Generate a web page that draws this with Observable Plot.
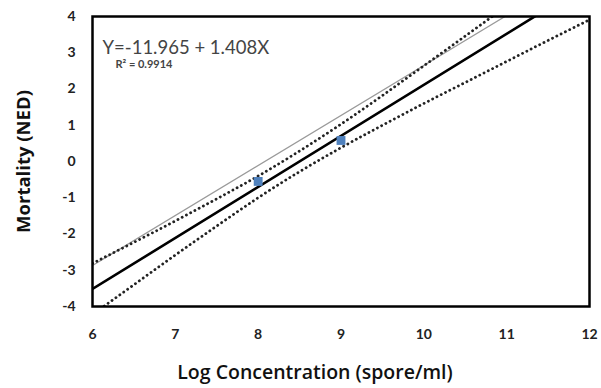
<!DOCTYPE html>
<html>
<head>
<meta charset="utf-8">
<script src="https://cdn.jsdelivr.net/npm/d3@7"></script>
<script src="https://cdn.jsdelivr.net/npm/@observablehq/plot@0.6"></script>
<style>
  html, body { margin: 0; padding: 0; background: #fff; }
  #chart { width: 601px; height: 388px; }
</style>
</head>
<body>
<div id="chart"></div>
<script>
// ---- data ----
const xTicks = [6, 7, 8, 9, 10, 11, 12];
const yTicks = [-4, -3, -2, -1, 0, 1, 2, 3, 4];
const obsX = [8, 9];
const obsY = [-0.55, 0.58];
const intercept = -11.965;
const slope = 1.408;
const fitX = [6, 12];
const grayX = [6, 10.98];
const grayY = [-2.87, 4.0];
const bandX  = [6, 6.5, 7, 7.5, 8, 8.5, 9, 9.5, 10, 10.5, 11, 11.5, 12];
const upperY = [-2.81, -2.23, -1.64, -1.03, -0.40, 0.29, 1.03, 1.82, 2.64, 3.46, 4.29, 5.12, 5.95];
const lowerY = [-4.22, -3.40, -2.58, -1.78, -1.00, -0.28, 0.38, 1.00, 1.60, 2.18, 2.76, 3.34, 3.91];
const eqText = "Y=-11.965 + 1.408X";
const r2Text = "R² = 0.9914";
const xLabel = "Log Concentration (spore/ml)";
const yLabel = "Mortality (NED)";

const obs = obsX.map((x, i) => ({x, y: obsY[i]}));
const fit = fitX.map(x => ({x, y: intercept + slope * x}));
const gray = grayX.map((x, i) => ({x, y: grayY[i]}));
const upper = bandX.map((x, i) => ({x, y: upperY[i]}));
const lower = bandX.map((x, i) => ({x, y: lowerY[i]}));

const font = "Lato, 'Open Sans', sans-serif";
const labelFont = "'Open Sans', Lato, sans-serif";
const fmt = d => String(d);

const chart = Plot.plot({
  width: 601,
  height: 388,
  marginLeft: 92,
  marginRight: 12,
  marginTop: 16,
  marginBottom: 82,
  style: {fontFamily: font, background: "#fff", color: "#222"},
  x: {domain: [6, 12], label: null},
  y: {domain: [-4, 4], label: null},
  marks: [
    Plot.axisX({ticks: xTicks, tickFormat: fmt, tickSize: 0, tickPadding: 23, fontSize: 14, fontWeight: "bold", label: null}),
    Plot.axisY({ticks: yTicks, tickFormat: fmt, tickSize: 0, tickPadding: 17, fontSize: 14, fontWeight: "bold", label: null}),
    Plot.line(gray, {x: "x", y: "y", stroke: "#9a9a9a", strokeWidth: 1.3, clip: true}),
    Plot.line(upper, {x: "x", y: "y", curve: "natural", stroke: "#222", strokeWidth: 2.8, strokeDasharray: "0.1,4.7", strokeLinecap: "round", clip: true}),
    Plot.line(lower, {x: "x", y: "y", curve: "natural", stroke: "#222", strokeWidth: 2.8, strokeDasharray: "0.1,4.7", strokeLinecap: "round", clip: true}),
    Plot.line(fit, {x: "x", y: "y", stroke: "#000", strokeWidth: 2.6, clip: true}),
    Plot.dot(obs, {x: "x", y: "y", symbol: "square", r: 5, fill: "#4f81bd", stroke: "none"}),
    Plot.frame({stroke: "#000", strokeWidth: 2.5}),
    Plot.text([eqText], {text: d => d, frameAnchor: "top-left", dx: 10, dy: 24, textAnchor: "start", fontSize: 18.5, fill: "#444", fontFamily: font}),
    Plot.text([r2Text], {text: d => d, frameAnchor: "top-left", dx: 23, dy: 44, textAnchor: "start", fontSize: 11, fontWeight: "bold", fill: "#444", fontFamily: font}),
    Plot.text([xLabel], {text: d => d, frameAnchor: "bottom", textAnchor: "middle", dx: -26, dy: 72, fontSize: 19.5, fontWeight: 600, fill: "#111", fontFamily: labelFont}),
    Plot.text([yLabel], {text: d => d, frameAnchor: "left", textAnchor: "middle", lineAnchor: "middle", dx: -68, rotate: -90, fontSize: 18.5, fontWeight: "bold", fill: "#111", fontFamily: labelFont})
  ]
});
document.getElementById("chart").appendChild(chart);
</script>
</body>
</html>
